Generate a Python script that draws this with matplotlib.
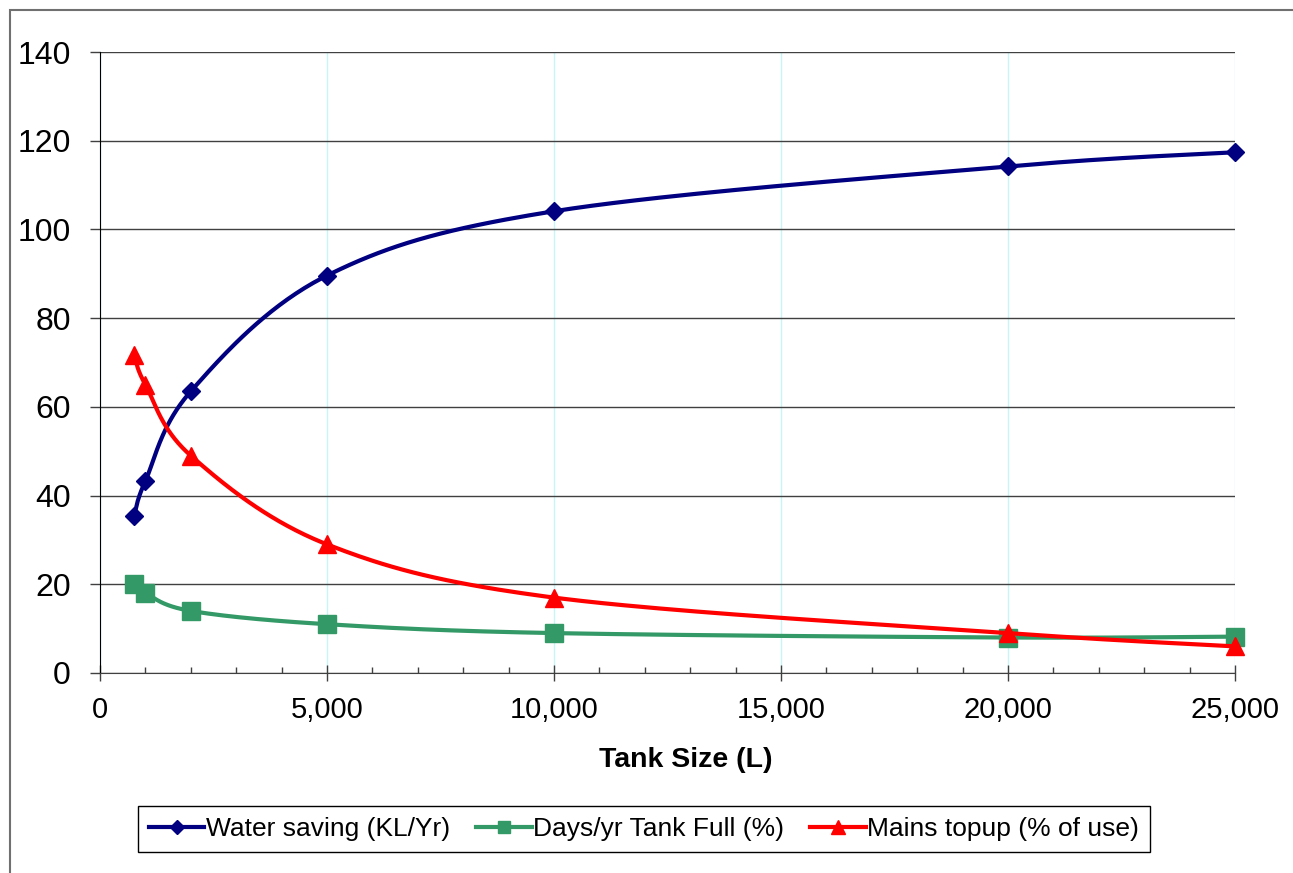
import numpy as np
import matplotlib.pyplot as plt
from matplotlib.patches import Rectangle
from matplotlib.ticker import MultipleLocator, FuncFormatter

# Data
tank_size = [750, 1000, 2000, 5000, 10000, 20000, 25000]
water_saving = [35.4, 43.3, 63.5, 89.6, 104.1, 114.2, 117.4]
days_full = [20.0, 18.0, 14.0, 11.0, 9.0, 8.0, 8.2]
mains_topup = [71.8, 65.0, 49.0, 29.0, 17.0, 9.0, 6.0]

series_names = ["Water saving (KL/Yr)", "Days/yr Tank Full (%)",
                "Mains topup (% of use)"]

W, H = 1293, 873
plt.rcParams['font.family'] = ['Liberation Sans', 'DejaVu Sans']


def smooth(xs, ys, sx, sy, n=40):
    """
        Excel-like smoothed line (Catmull-Rom Bezier) through the points,
        computed in screen-proportional units
    """
    p = np.column_stack([np.asarray(xs, float) / sx, np.asarray(ys, float) / sy])
    ext = np.vstack([p[0], p, p[-1]])
    t = np.linspace(0, 1, n)[:, None]
    out = []
    for i in range(1, len(ext) - 2):
        p0, p1, p2, p3 = ext[i - 1], ext[i], ext[i + 1], ext[i + 2]
        c1 = p1 + (p2 - p0) / 6
        c2 = p2 - (p3 - p1) / 6
        seg = ((1 - t) ** 3) * p1 + 3 * ((1 - t) ** 2) * t * c1 \
            + 3 * (1 - t) * t ** 2 * c2 + t ** 3 * p2
        out.append(seg if i == 1 else seg[1:])
    out = np.vstack(out)
    return out[:, 0] * sx, out[:, 1] * sy


fig = plt.figure(figsize=(W / 100, H / 100), dpi=100)
fig.patches.append(Rectangle((9.5 / W, -0.1), 1.2, 1.1 - 10.5 / H,
                             transform=fig.transFigure, fill=False,
                             edgecolor='#707070', linewidth=1.5))

ax = fig.add_axes([100 / W, 1 - 673 / H, 1135 / W, 621 / H])

sx, sy = 25000 / 1135, 140 / 621
styles = [
    (water_saving, '#000080', 'D', 9.5),
    (days_full, '#339966', 's', 12.5),
    (mains_topup, '#FF0000', '^', 13.5),
]
handles = []
for (vals, col, mk, ms), name in zip(styles, series_names):
    lx, ly = smooth(tank_size, vals, sx, sy)
    ax.plot(lx, ly, color=col, lw=3, solid_capstyle='round', clip_on=False)
    ax.plot(tank_size, vals, linestyle='none', marker=mk, ms=ms,
            color=col, mec=col, clip_on=False)
    h, = ax.plot([], [], color=col, lw=3, marker=mk, ms=ms * 0.72, mec=col)
    handles.append(h)

ax.set_xlim(0, 25000)
ax.set_ylim(0, 140)
ax.xaxis.set_major_locator(MultipleLocator(5000))
ax.xaxis.set_minor_locator(MultipleLocator(1000))
ax.yaxis.set_major_locator(MultipleLocator(20))
ax.xaxis.set_major_formatter(FuncFormatter(lambda v, p: f"{int(v):,}"))

ax.grid(axis='y', color='#404040', lw=1.0)
ax.grid(axis='x', which='major', color='#c8f6f6', lw=1.0)
ax.set_axisbelow(True)

for s in ['top', 'right']:
    ax.spines[s].set_visible(False)
ax.spines['left'].set_color('black')
ax.spines['bottom'].set_color('#404040')

ax.tick_params(axis='y', which='major', direction='out', length=7,
               width=1.0, color='#404040', labelsize=23, pad=14)
ax.tick_params(axis='x', which='major', direction='inout', length=11,
               width=1.0, color='#404040', labelsize=21, pad=11)
ax.tick_params(axis='x', which='minor', direction='in', length=4.5,
               width=1.0, color='#404040')

ax.set_xlabel("Tank Size (L)", fontsize=20.5, fontweight='bold')
ax.xaxis.set_label_coords((686 - 100) / 1135, -(760 - 673) / 621)
ax.xaxis.label.set_va('center')

leg = fig.legend(handles, series_names, loc='center',
                 bbox_to_anchor=(644 / W, 1 - 829 / H), ncol=3,
                 fontsize=19, frameon=True, fancybox=False,
                 edgecolor='black', framealpha=1, handlelength=2.1,
                 handletextpad=0.05, columnspacing=1.0, borderpad=0.42)
leg.get_frame().set_linewidth(1.0)

fig.savefig("out.png", dpi=100)
